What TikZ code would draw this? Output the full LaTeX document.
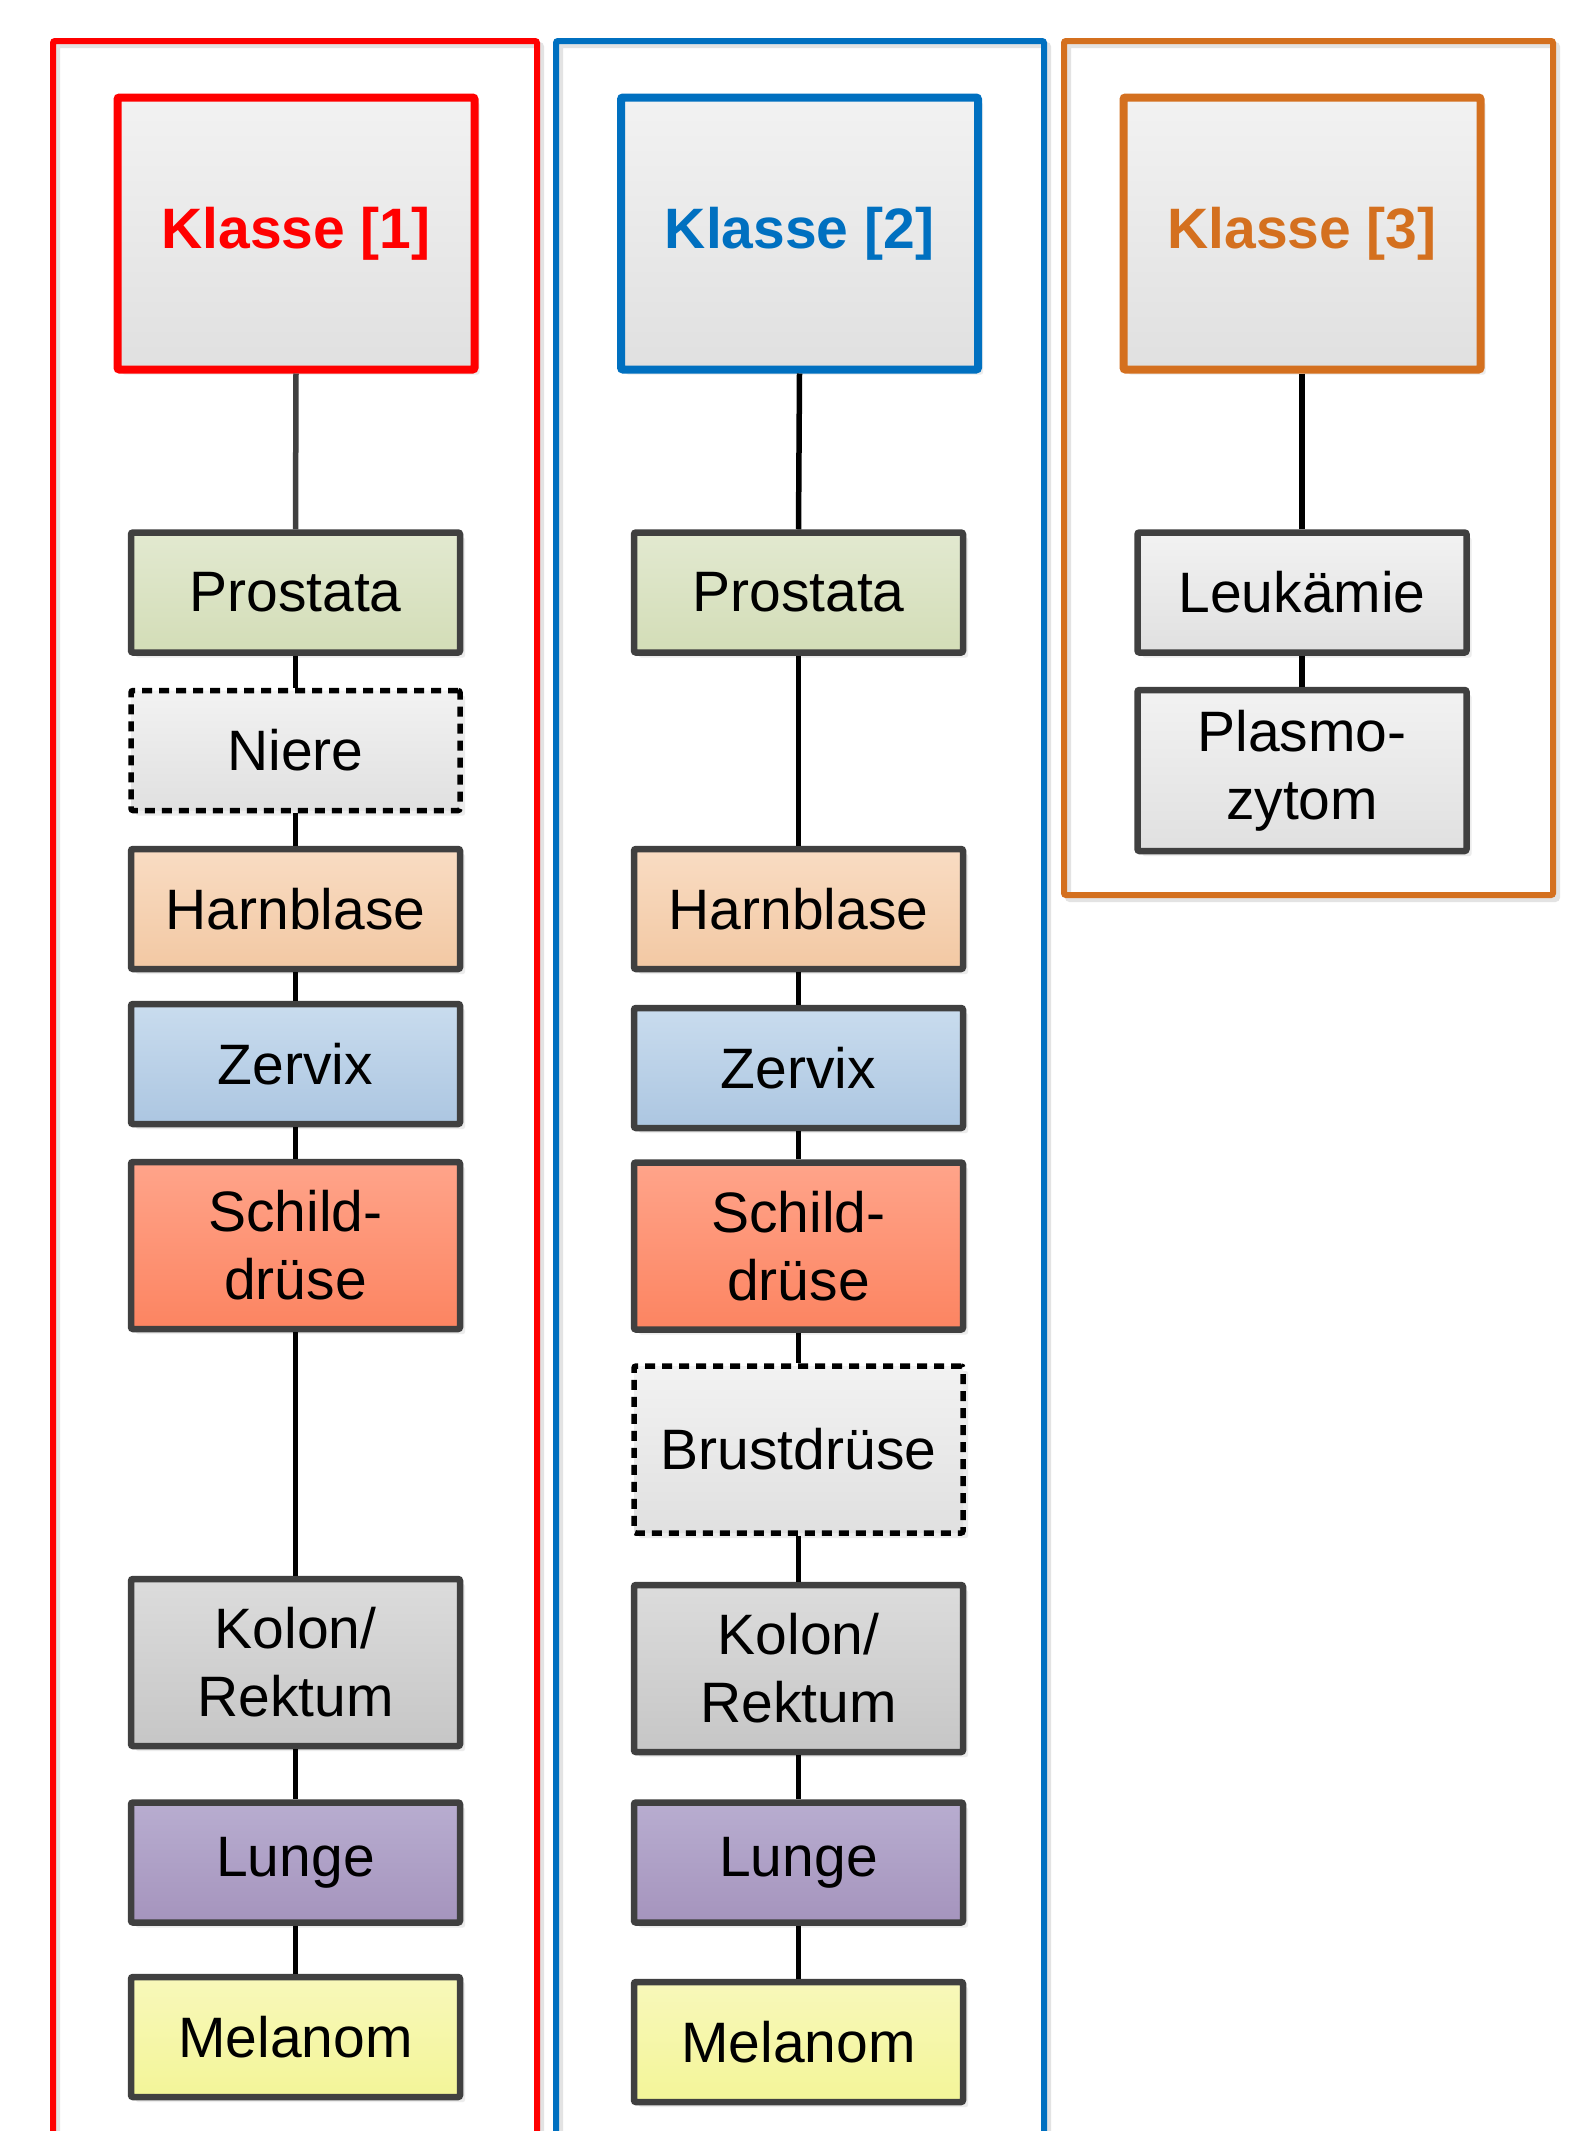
\documentclass[tikz,border=0pt]{standalone}
\usepackage{fontspec}
\setmainfont{Liberation Sans}
\usetikzlibrary{shadows}
\definecolor{boxgray}{HTML}{404040}
\definecolor{kred}{HTML}{FF0000}
\definecolor{kblue}{HTML}{0070C0}
\definecolor{korange}{HTML}{D4701F}
\definecolor{grayT}{HTML}{F2F2F2}
\definecolor{grayB}{HTML}{E0E0E0}
\definecolor{prosT}{HTML}{E2E9D0}
\definecolor{prosB}{HTML}{D3DDB7}
\definecolor{harnT}{HTML}{F9DCC3}
\definecolor{harnB}{HTML}{F2C8A3}
\definecolor{zervT}{HTML}{C9DCEE}
\definecolor{zervB}{HTML}{ACC6E1}
\definecolor{schT}{HTML}{FFA48A}
\definecolor{schB}{HTML}{FC8461}
\definecolor{kolT}{HTML}{DCDCDC}
\definecolor{kolB}{HTML}{C6C6C6}
\definecolor{lunT}{HTML}{B8ADD0}
\definecolor{lunB}{HTML}{A594BD}
\definecolor{melT}{HTML}{F8F8BA}
\definecolor{melB}{HTML}{F3F598}
\newcommand\organfont{\fontsize{57}{68}\selectfont}
\newcommand\klassefont{\fontsize{57}{68}\selectfont\bfseries}
\tikzset{
  organ/.style={draw=boxgray, line width=6.5pt, rounded corners=2pt, minimum width=329pt, minimum height=120pt,
    inner sep=0pt, align=center, font=\organfont,
    drop shadow={opacity=0.15, shadow xshift=5pt, shadow yshift=-5pt}},
  tall/.style={minimum height=167pt},
  dashbox/.style={draw=black, line width=5.5pt, dash pattern=on 10pt off 7pt, top color=grayT, bottom color=grayB},
  grayfill/.style={top color=grayT, bottom color=grayB},
  klasse/.style={line width=8pt, rounded corners=2pt, minimum width=357pt, minimum height=272pt, inner sep=0pt,
    font=\klassefont, top color=grayT, bottom color=grayB,
    drop shadow={opacity=0.15, shadow xshift=5pt, shadow yshift=-5pt}},
  frame/.style={line width=6pt, rounded corners=2pt},
  conn/.style={draw=black, line width=5.5pt},
  pros/.style={top color=prosT, bottom color=prosB},
  harn/.style={top color=harnT, bottom color=harnB},
  zerv/.style={top color=zervT, bottom color=zervB},
  sch/.style={top color=schT, bottom color=schB},
  kol/.style={top color=kolT, bottom color=kolB},
  lun/.style={top color=lunT, bottom color=lunB},
  mel/.style={top color=melT, bottom color=melB},
}
\begin{document}
\begin{tikzpicture}[x=1pt, y=-1pt]
\useasboundingbox (0,0) rectangle (1582,2131);
\clip (0,0) rectangle (1582,2131);
\fill[white] (0,0) rectangle (1582,2131);

% outer frames (with light shadow)
\draw[frame, draw=gray!22] (57,2150) -- (57,45) -- (541,45) -- (541,2150);
\draw[frame, draw=kred] (53,2150) -- (53,41) -- (537,41) -- (537,2150);
\draw[frame, draw=gray!22] (560,2150) -- (560,45) -- (1048,45) -- (1048,2150);
\draw[frame, draw=kblue] (556,2150) -- (556,41) -- (1044,41) -- (1044,2150);
\draw[frame, draw=gray!22] (1068,45) rectangle (1557,899);
\draw[frame, draw=korange] (1064,41) rectangle (1553,895);

% class headers
\node[klasse, draw=kred, text=kred] (k1) at (296,233.5) {Klasse [1]};
\node[klasse, draw=kblue, text=kblue] (k2) at (799.5,233.5) {Klasse [2]};
\node[klasse, draw=korange, text=korange] (k3) at (1302,233.5) {Klasse [3]};

% column 1
\node[organ, pros] (a1) at (295.5,592.5) {Prostata};
\node[organ, dashbox] (a2) at (295.5,750.5) {Niere};
\node[organ, harn] (a3) at (295.5,909) {Harnblase};
\node[organ, zerv] (a4) at (295.5,1064) {Zervix};
\node[organ, sch, tall] (a5) at (295.5,1245.5) {Schild-\\drüse};
\node[organ, kol, tall] (a6) at (295.5,1662.5) {Kolon/\\Rektum};
\node[organ, lun] (a7) at (295.5,1862.5) {Lunge};
\node[organ, mel] (a8) at (295.5,2037) {Melanom};

% column 2
\node[organ, pros] (b1) at (798.5,592.5) {Prostata};
\node[organ, harn] (b2) at (798.5,909) {Harnblase};
\node[organ, zerv] (b3) at (798.5,1068) {Zervix};
\node[organ, sch, tall] (b4) at (798.5,1246) {Schild-\\drüse};
\node[organ, dashbox, tall] (b5) at (798.5,1449.5) {Brustdrüse};
\node[organ, kol, tall] (b6) at (798.5,1668.5) {Kolon/\\Rektum};
\node[organ, lun] (b7) at (798.5,1862.5) {Lunge};
\node[organ, mel] (b8) at (798.5,2042) {Melanom};

% column 3
\node[organ, grayfill] (c1) at (1302,592.5) {Leukämie};
\node[organ, grayfill, minimum height=161pt] (c2) at (1302,770.5) {Plasmo-\\zytom};

% connectors
\draw[conn, draw=boxgray] (k1.south) -- (a1.north);
\draw[conn] (a1.south) -- (a2.north);
\draw[conn] (a2.south) -- (a3.north);
\draw[conn] (a3.south) -- (a4.north);
\draw[conn] (a4.south) -- (a5.north);
\draw[conn] (a5.south) -- (a6.north);
\draw[conn] (a6.south) -- (a7.north);
\draw[conn] (a7.south) -- (a8.north);
\draw[conn] (k2.south) -- (b1.north);
\draw[conn] (b1.south) -- (b2.north);
\draw[conn] (b2.south) -- (b3.north);
\draw[conn] (b3.south) -- (b4.north);
\draw[conn] (b4.south) -- (b5.north);
\draw[conn] (b5.south) -- (b6.north);
\draw[conn] (b6.south) -- (b7.north);
\draw[conn] (b7.south) -- (b8.north);
\draw[conn] (k3.south) -- (c1.north);
\draw[conn] (c1.south) -- (c2.north);
\end{tikzpicture}
\end{document}
